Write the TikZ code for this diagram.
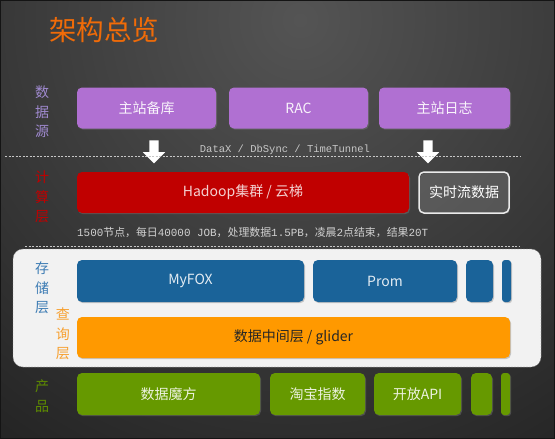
\documentclass[tikz,border=0pt]{standalone}
\usepackage{fontspec}
\setmainfont{Noto Sans CJK SC}
\setmonofont{Liberation Mono}
\usepackage{xcolor}
\usetikzlibrary{arrows.meta, positioning, shadows, shapes.arrows}
\definecolor{srcPurple}{HTML}{B070D2}
\definecolor{calcRed}{HTML}{C00000}
\definecolor{storeBlue}{HTML}{1A6399}
\definecolor{queryOrange}{HTML}{FF9900}
\definecolor{prodGreen}{HTML}{669900}
\definecolor{titleOrange}{HTML}{F06B08}
\definecolor{lblPurple}{HTML}{A08AD0}
\definecolor{lblBlue}{HTML}{3D7CB4}
\definecolor{lblOrange}{HTML}{F7A030}
\definecolor{lblGreen}{HTML}{5E8C00}
\newcommand{\mo}[1]{{\ttfamily #1}}

\begin{document}
\begin{tikzpicture}[
  x=1pt, y=-1pt,
  box/.style={rounded corners=5pt, inner sep=0pt, minimum height=41pt, font=\fontsize{14}{16}\selectfont, drop shadow={opacity=0.4, shadow xshift=1pt, shadow yshift=-1.2pt}},
  srcbox/.style={box, fill=srcPurple, text=white!92!srcPurple},
  calcbox/.style={box, fill=calcRed, text=white!82!calcRed},
  storebox/.style={box, fill=storeBlue, text=white!88!storeBlue},
  querybox/.style={box, fill=queryOrange, text=black!85},
  prodbox/.style={box, fill=prodGreen, text=white!88!prodGreen},
  side/.style={align=center, inner sep=0pt, font=\fontsize{14}{19.5}\selectfont},
  sep/.style={black!22, line width=1pt, dash pattern=on 2pt off 1.5pt},
  down/.style={single arrow, fill=white, draw=none, shape border rotate=270, minimum height=23pt, inner sep=4.5pt, single arrow head extend=6.5pt, single arrow head indent=0pt}
]
\useasboundingbox (0,0) rectangle (555,439);

% Background
\begin{scope}
\clip (0,0) rectangle (555,439);
\shade[inner color=black!67, outer color=black!86] (300,20) circle (520);
\end{scope}
\draw[black!92, line width=1pt] (0.5,0.5) rectangle (554.5,438.5);

% Title
\node[font=\fontsize{27.5}{30}\selectfont, text=titleOrange, inner sep=0pt] (title) at (104,30) {架构总览};

% Data sources
\node[side, text=lblPurple] (lblSrc) at (42,112) {数\\据\\源};
\node[srcbox, minimum width=139pt] (srcA) at (146.5,108) {主站备库};
\node[srcbox, minimum width=139pt] (srcB) at (298.5,108) {RAC};
\node[srcbox, minimum width=131pt] (srcC) at (444.5,108) {主站日志};

\node[down] (arrA) at (154,149.5) {};
\node[down] (arrB) at (428,149.5) {};
\node[font=\fontsize{10.5}{12}\selectfont\ttfamily, text=black!22, inner sep=0pt] (via) at (285,150) {DataX / DbSync / TimeTunnel};
\draw[sep] (5,156) -- (520,156);

% Computing layer
\node[side, text=calcRed] (lblCalc) at (42,197) {计\\算\\层};
\node[calcbox, minimum width=332pt] (hadoop) at (243,192.5) {Hadoop集群 / 云梯};
\node[box, draw=white!92!black, line width=1.5pt, minimum width=90pt, minimum height=41pt, text=white, drop shadow={opacity=0}] (stream) at (464,192.5) {实时流数据};
\node[anchor=west, font=\fontsize{10.9}{12}\selectfont, text=black!18, inner sep=0pt] (stats) at (77,232)
  {\mo{1500}节点，每日\mo{40000 JOB}，处理数据\mo{1.5PB}，凌晨\mo{2}点结束，结果\mo{20T}};
\draw[sep] (25,246) -- (520,246);

% Storage and query layers
\node[fill=black!5, draw=black!45, dash pattern=on 2pt off 1pt, rounded corners=10pt, minimum width=528pt, minimum height=118pt, inner sep=0pt] (storeBg) at (277,308) {};
\node[side, text=lblBlue] (lblStore) at (42,288) {存\\储\\层};
\node[side, text=lblOrange] (lblQuery) at (63,334) {查\\询\\层};
\node[storebox, minimum width=227pt, minimum height=42pt] (myfox) at (190.5,281) {MyFOX};
\node[storebox, minimum width=144pt, minimum height=42pt] (prom) at (385,281) {Prom};
\node[storebox, minimum width=27pt, minimum height=42pt] (storeC) at (479.5,281) {};
\node[storebox, minimum width=9pt, minimum height=42pt, rounded corners=3pt] (storeD) at (506.5,281) {};
\node[querybox, minimum width=433pt] (glider) at (293.5,337.5) {数据中间层 / glider};

% Products
\node[side, text=lblGreen] (lblProd) at (42,396) {产\\品};
\node[prodbox, minimum width=183pt, minimum height=42pt] (magic) at (168.5,394) {数据魔方};
\node[prodbox, minimum width=95pt, minimum height=42pt] (index) at (317.5,394) {淘宝指数};
\node[prodbox, minimum width=87pt, minimum height=42pt] (api) at (417.5,394) {开放API};
\node[prodbox, minimum width=21pt, minimum height=42pt] (prodD) at (481.5,394) {};
\node[prodbox, minimum width=9pt, minimum height=42pt, rounded corners=3pt] (prodE) at (505.5,394) {};

\end{tikzpicture}
\end{document}
